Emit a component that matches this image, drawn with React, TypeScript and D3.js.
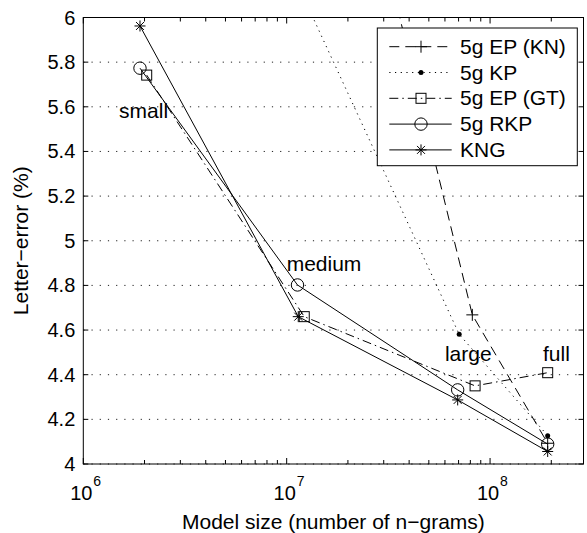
import * as d3 from "d3";

// model size (number of n-grams) and letter-error (%) per system
const kngSizes = [1.9e6, 1.14e7, 6.93e7, 1.92e8];
const kngErr = [5.962, 4.66, 4.287, 4.056];
const rkpSizes = [1.9e6, 1.13e7, 6.93e7, 1.92e8];
const rkpErr = [5.773, 4.802, 4.332, 4.089];
const epGtSizes = [2.05e6, 1.22e7, 8.44e7, 1.92e8];
const epGtErr = [5.742, 4.66, 4.35, 4.409];
const kpSizes = [1.13e7, 7.05e7, 1.92e8];
const kpErr = [6.15, 4.581, 4.127];
const epKnSizes = [1.2e7, 8.18e7, 1.92e8];
const epKnErr = [7.78, 4.668, 4.093];

const sizeLabels = ["small", "medium", "large", "full"];
const sizeLabelX = [1.5e6, 1.0e7, 6.0e7, 1.82e8];
const sizeLabelY = [5.55, 4.866, 4.463, 4.463];

const yTicks = [4, 4.2, 4.4, 4.6, 4.8, 5, 5.2, 5.4, 5.6, 5.8, 6];
const yTickLabels = ["4", "4.2", "4.4", "4.6", "4.8", "5", "5.2", "5.4", "5.6", "5.8", "6"];
const xMajor = [1e6, 1e7, 1e8];
const xExponents = ["6", "7", "8"];

type Marker = "plus" | "dot" | "square" | "circle" | "star";

const series: { name: string; sizes: number[]; err: number[]; dash?: string; marker: Marker }[] = [
  { name: "5g EP (KN)", sizes: epKnSizes, err: epKnErr, dash: "10 6", marker: "plus" },
  { name: "5g KP", sizes: kpSizes, err: kpErr, dash: "1.2 4.5", marker: "dot" },
  { name: "5g EP (GT)", sizes: epGtSizes, err: epGtErr, dash: "9 4 1.5 4", marker: "square" },
  { name: "5g RKP", sizes: rkpSizes, err: rkpErr, marker: "circle" },
  { name: "KNG", sizes: kngSizes, err: kngErr, marker: "star" },
];

const W = 587;
const H = 533;
const m = { left: 83.3, right: 583.5, top: 17.5, bottom: 464 };
const font = "'Liberation Sans', Arial, Helvetica, sans-serif";

function MarkerShape({ type, x, y }: { type: Marker; x: number; y: number }) {
  const s = "#000";
  if (type === "plus") {
    return (
      <g stroke={s} strokeWidth={1}>
        <line x1={x - 6} x2={x + 6} y1={y} y2={y} />
        <line x1={x} x2={x} y1={y - 6} y2={y + 6} />
      </g>
    );
  }
  if (type === "dot") return <circle cx={x} cy={y} r={2.5} fill={s} />;
  if (type === "square")
    return <rect x={x - 5} y={y - 5} width={10} height={10} fill="none" stroke={s} strokeWidth={1} />;
  if (type === "circle") return <circle cx={x} cy={y} r={6.2} fill="none" stroke={s} strokeWidth={1} />;
  const r = 5.5;
  const d = r * 0.72;
  return (
    <g stroke={s} strokeWidth={1}>
      <line x1={x - r} x2={x + r} y1={y} y2={y} />
      <line x1={x} x2={x} y1={y - r} y2={y + r} />
      <line x1={x - d} x2={x + d} y1={y - d} y2={y + d} />
      <line x1={x - d} x2={x + d} y1={y + d} y2={y - d} />
    </g>
  );
}

export default function App() {
  const x = d3.scaleLog().domain([1e6, 2.88e8]).range([m.left, m.right]);
  const y = d3.scaleLinear().domain([4, 6]).range([m.bottom, m.top]);

  const minorTicks: number[] = [];
  for (let e = 6; e <= 8; e++) {
    for (let k = 2; k <= 9; k++) {
      const v = k * Math.pow(10, e);
      if (v <= 2.88e8) minorTicks.push(v);
    }
  }

  const line = d3
    .line<[number, number]>()
    .x((d) => x(d[0]))
    .y((d) => y(d[1]));

  const legendX = 377.3;
  const legendY = 28;
  const legendW = 200;
  const legendH = 137.7;
  const rowH = 25.8;

  return (
    <svg
      width={W}
      height={H}
      style={{ position: "absolute", left: 0, top: 0, background: "#fff" }}
      fontFamily={font}
    >
      <defs>
        <clipPath id="plot-clip">
          <rect x={m.left} y={m.top} width={m.right - m.left} height={m.bottom - m.top} />
        </clipPath>
      </defs>
      <rect width={W} height={H} fill="#fff" />

      {/* horizontal dotted grid */}
      {yTicks.map((t) => (
        <line
          key={t}
          x1={m.left}
          x2={m.right}
          y1={y(t)}
          y2={y(t)}
          stroke="#222"
          strokeWidth={1}
          strokeDasharray="1.2 7"
        />
      ))}

      {/* series */}
      <g clipPath="url(#plot-clip)">
        {series.map((s) => (
          <path
            key={s.name}
            d={line(s.sizes.map((v, i) => [v, s.err[i]] as [number, number])) ?? ""}
            fill="none"
            stroke="#000"
            strokeWidth={1}
            strokeDasharray={s.dash}
          />
        ))}
        {series.map((s) =>
          s.sizes.map((v, i) => <MarkerShape key={s.name + i} type={s.marker} x={x(v)} y={y(s.err[i])} />)
        )}
      </g>

      {/* size annotations */}
      {sizeLabels.map((lab, i) => (
        <text key={lab} x={x(sizeLabelX[i])} y={y(sizeLabelY[i])} fontSize={21} fill="#000">
          {lab}
        </text>
      ))}

      {/* axes frame */}
      <rect
        x={m.left}
        y={m.top}
        width={m.right - m.left}
        height={m.bottom - m.top}
        fill="none"
        stroke="#000"
        strokeWidth={1}
      />

      {/* y ticks */}
      {yTicks.map((t, i) => (
        <g key={t}>
          <line x1={m.left} x2={m.left + 5} y1={y(t)} y2={y(t)} stroke="#000" />
          <line x1={m.right} x2={m.right - 5} y1={y(t)} y2={y(t)} stroke="#000" />
          <text x={m.left - 8} y={y(t) + 7} textAnchor="end" fontSize={20} fill="#000">
            {yTickLabels[i]}
          </text>
        </g>
      ))}

      {/* x ticks */}
      {minorTicks.map((t) => (
        <g key={t}>
          <line x1={x(t)} x2={x(t)} y1={m.bottom} y2={m.bottom - 4} stroke="#000" />
          <line x1={x(t)} x2={x(t)} y1={m.top} y2={m.top + 4} stroke="#000" />
        </g>
      ))}
      {xMajor.map((t, i) => (
        <g key={t}>
          <line x1={x(t)} x2={x(t)} y1={m.bottom} y2={m.bottom - 6} stroke="#000" />
          <line x1={x(t)} x2={x(t)} y1={m.top} y2={m.top + 6} stroke="#000" />
          <text x={x(t) - 2} y={m.bottom + 36} textAnchor="middle" fontSize={20} fill="#000">
            10
          </text>
          <text x={x(t) + 10} y={m.bottom + 22} fontSize={14} fill="#000">
            {xExponents[i]}
          </text>
        </g>
      ))}

      {/* axis titles */}
      <text x={(m.left + m.right) / 2} y={529} textAnchor="middle" fontSize={21} fill="#000">
        Model size (number of n−grams)
      </text>
      <text
        transform={`translate(28,${(m.top + m.bottom) / 2}) rotate(-90)`}
        textAnchor="middle"
        fontSize={21}
        fill="#000"
      >
        Letter−error (%)
      </text>

      {/* legend */}
      <rect x={legendX} y={legendY} width={legendW} height={legendH} fill="#fff" stroke="#000" strokeWidth={1} />
      {series.map((s, i) => {
        const cy = legendY + 18.7 + i * rowH;
        return (
          <g key={s.name}>
            <line x1={389.3} x2={451.7} y1={cy} y2={cy} stroke="#000" strokeWidth={1} strokeDasharray={s.dash} />
            <MarkerShape type={s.marker} x={421} y={cy} />
            <text x={460} y={cy + 7} fontSize={21} fill="#000">
              {s.name}
            </text>
          </g>
        );
      })}
    </svg>
  );
}
